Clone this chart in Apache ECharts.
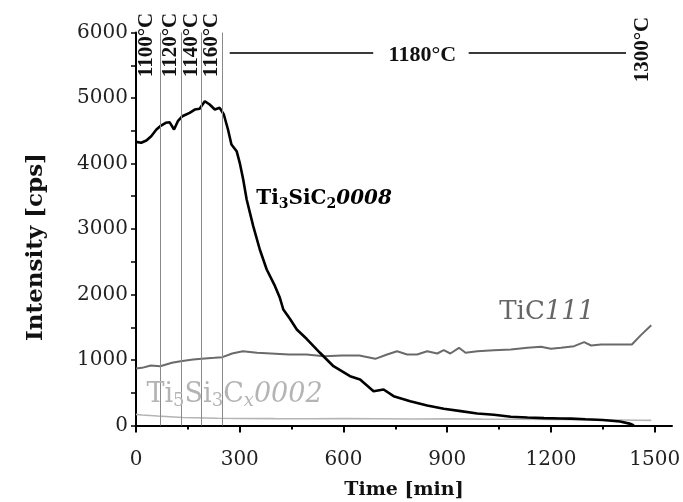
<!DOCTYPE html>
<html><head><meta charset="utf-8">
<script src="https://cdn.jsdelivr.net/npm/echarts@6/dist/echarts.min.js"></script>
<style>html,body{margin:0;padding:0;background:#fff}#c{width:683px;height:502px}</style>
</head><body><div id="c"></div>
<script>
// ---- data (time in min, intensity in cps) ----
const ti3sic2Time = [0,15,30,44,59,70,86,97,110,121,134,155,170,184,199,213,228,242,254,266,276,291,300,310,320,339,358,378,402,416,426,445,465,494,532,571,619,648,687,716,745,793,842,890,939,987,1035,1084,1132,1180,1229,1258,1300,1350,1400,1430,1440];
const ti3sic2Vals = [4330,4316,4351,4417,4519,4570,4621,4631,4519,4646,4722,4774,4824,4835,4951,4901,4824,4850,4748,4519,4290,4188,4010,3756,3450,3043,2687,2382,2127,1950,1771,1630,1466,1320,1110,905,753,702,524,550,448,371,305,255,219,183,163,133,122,112,107,105,95,85,60,25,0];

const ticTime = [0,17,43,70,104,129,165,190,227,250,278,309,350,390,442,493,544,595,646,692,726,755,784,813,842,871,890,909,934,953,987,1035,1084,1132,1171,1200,1229,1267,1296,1316,1345,1400,1434,1460,1490];
const ticVals = [870,880,916,905,957,982,1008,1018,1033,1043,1099,1134,1110,1099,1084,1084,1058,1069,1069,1018,1084,1134,1084,1084,1134,1099,1150,1099,1186,1110,1134,1150,1160,1186,1201,1171,1186,1211,1272,1221,1237,1237,1237,1380,1530];

const ti5si3Time = [0,17,62,135,236,300,400,500,600,700,800,900,1000,1100,1200,1300,1400,1450,1490];
const ti5si3Vals = [170,160,145,122,110,108,105,104,106,104,100,102,98,95,92,90,85,80,78];

const xMajorTicks = [0,300,600,900,1200,1500];
const xMinorTicks = [150,450,750,1050,1350];
const tempLineTimes = [70,130,190,248,1438,1490];
const tempLabels = ['1100°C','1120°C','1140°C','1160°C','1300°C'];
const tempLabelTimes = [30,100,160,219,1464];
const plateauLabel = '1180°C';
const plateauSegments = [[271,686],[962,1417]];
const plateauLevel = 5690;

// ---- build ----
const zip = (t, v) => t.map((x, i) => [x, v[i]]);
const serif = 'DejaVu Serif';
const times = 'Liberation Serif';

const vLines = tempLineTimes.map((t, i) => [
  {coord: [t, 0]},
  {coord: [t, i >= 4 ? 6200 : 6000]}
]);
const hLines = plateauSegments.map(s => [
  {coord: [s[0], plateauLevel], lineStyle: {color: '#3a3a3a', width: 2}},
  {coord: [s[1], plateauLevel]}
]);

const tempPoints = tempLabels.map((lab, i) => ({
  coord: [tempLabelTimes[i], i === 4 ? 5740 : 5810],
  symbolSize: 0,
  label: {show: true, formatter: lab, rotate: 90, position: 'inside', align: 'center', verticalAlign: 'middle',
    fontFamily: times, fontWeight: 'bold', fontSize: 21, color: '#111'}
}));
tempPoints.push({
  coord: [828, 5650], symbolSize: 0,
  label: {show: true, formatter: plateauLabel, position: 'inside', align: 'center', verticalAlign: 'middle',
    fontFamily: times, fontWeight: 'bold', fontSize: 22, color: '#111'}
});

const richBig = (color, weight, size, sub) => ({
  a: {fontFamily: serif, fontWeight: weight, fontSize: size, color: color, lineHeight: size + 4},
  s: {fontFamily: serif, fontWeight: weight, fontSize: sub, color: color, lineHeight: sub, verticalAlign: 'bottom'},
  x: {fontFamily: serif, fontWeight: weight, fontStyle: 'italic', fontSize: sub, color: color, lineHeight: sub, verticalAlign: 'bottom'},
  i: {fontFamily: serif, fontWeight: weight, fontStyle: 'italic', fontSize: size, color: color, lineHeight: size + 4}
});

const seriesLabels = [
  {coord: [544, 3460], symbolSize: 0,
   label: {show: true, position: 'inside', formatter: '{a|Ti}{s|3}{a|SiC}{s|2}{i|0008}', rich: richBig('#000', 'bold', 20, 14)}},
  {coord: [1188, 1730], symbolSize: 0,
   label: {show: true, position: 'inside', formatter: '{a|TiC}{i|111}', rich: richBig('#666', 'normal', 26, 17)}},
  {coord: [285, 470], symbolSize: 0,
   label: {show: true, position: 'inside', formatter: '{a|Ti}{s|5}{a|Si}{s|3}{a|C}{x|x}{i|0002}', rich: richBig('#b4b4b4', 'normal', 27, 18)}}
];

const plain = v => String(v);

const chart = echarts.init(document.getElementById('c'), null, {renderer: 'canvas'});
chart.setOption({
  animation: false,
  backgroundColor: '#fff',
  grid: {left: 136, right: 11, top: 32.5, bottom: 76.5, containLabel: false, outerBoundsMode: 'none'},
  xAxis: [{
    type: 'value', min: 0, max: 1550, interval: 300,
    axisLine: {lineStyle: {color: '#000', width: 2}},
    axisTick: {customValues: xMajorTicks, length: 7, lineStyle: {color: '#000', width: 2}},
    axisLabel: {customValues: xMajorTicks, formatter: plain, fontFamily: serif, fontSize: 20, color: '#222', margin: 24},
    splitLine: {show: false},
    name: 'Time [min]', nameLocation: 'middle', nameGap: 55,
    nameTextStyle: {fontFamily: serif, fontWeight: 'bold', fontSize: 19, color: '#111'}
  }, {
    type: 'value', min: 0, max: 1550, position: 'bottom',
    axisLine: {show: false},
    axisTick: {customValues: xMinorTicks, length: 4, lineStyle: {color: '#000', width: 2}},
    axisLabel: {show: false},
    splitLine: {show: false}
  }],
  yAxis: {
    type: 'value', min: 0, max: 6000, interval: 1000,
    axisLine: {show: true, lineStyle: {color: '#000', width: 2}},
    axisTick: {show: true, length: 5, lineStyle: {color: '#000', width: 1.5}},
    minorTick: {show: true, splitNumber: 2, length: 5, lineStyle: {color: '#000', width: 1.5}},
    axisLabel: {formatter: plain, fontFamily: serif, fontSize: 20, color: '#222', margin: 8},
    splitLine: {show: false},
    name: 'Intensity [cps]', nameLocation: 'middle', nameGap: 88,
    nameTextStyle: {fontFamily: serif, fontWeight: 'bold', fontSize: 23, color: '#111', padding: [0, 36, 0, 0]}
  },
  series: [
    {
      name: 'Ti5Si3Cx 0002', type: 'line', data: zip(ti5si3Time, ti5si3Vals), showSymbol: false, clip: false,
      lineStyle: {color: '#b4b4b4', width: 1.6}, z: 2,
      markLine: {silent: true, symbol: 'none', label: {show: false}, animation: false,
        lineStyle: {color: '#8a8a8a', width: 1, type: 'solid'}, data: vLines.concat(hLines)},
      markPoint: {silent: true, symbol: 'circle', symbolSize: 0, animation: false, data: tempPoints.concat(seriesLabels)}
    },
    {
      name: 'TiC 111', type: 'line', data: zip(ticTime, ticVals), showSymbol: false,
      lineStyle: {color: '#6a6a6a', width: 2}, z: 3
    },
    {
      name: 'Ti3SiC2 0008', type: 'line', data: zip(ti3sic2Time, ti3sic2Vals), showSymbol: false,
      lineStyle: {color: '#000', width: 2.6}, z: 4
    }
  ]
});
</script></body></html>
